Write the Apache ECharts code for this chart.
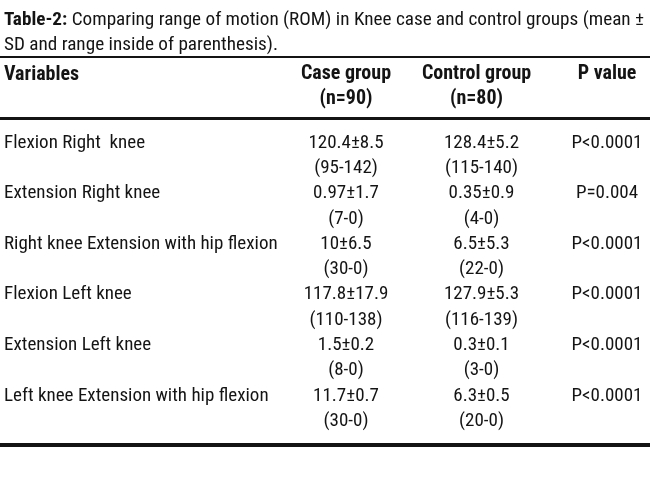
<!DOCTYPE html>
<html>
<head>
<meta charset="utf-8">
<script src="https://cdn.jsdelivr.net/npm/echarts@6/dist/echarts.min.js"></script>
<style>html,body{margin:0;padding:0;background:#fff;}#chart{width:650px;height:485px;}</style>
</head>
<body>
<div id="chart"></div>
<script>
// ---- data ----
const titleBold = 'Table-2:';
const titleLine1 = ' Comparing range of motion (ROM) in Knee case and control groups (mean \u00b1';
const titleLine2 = 'SD and range inside of parenthesis).';
const variablesHeader = 'Variables';
const columnHeaders = ['Case group', 'Control group', 'P value'];
const columnSubHeaders = ['(n=90)', '(n=80)', ''];
const variables = [
  'Flexion Right  knee',
  'Extension Right knee',
  'Right knee Extension with hip flexion',
  'Flexion Left knee',
  'Extension Left knee',
  'Left knee Extension with hip flexion'
];
const caseMean = [120.4, 0.97, 10, 117.8, 1.5, 11.7];
const caseSD = [8.5, 1.7, 6.5, 17.9, 0.2, 0.7];
const caseRange = [[95, 142], [7, 0], [30, 0], [110, 138], [8, 0], [30, 0]];
const controlMean = [128.4, 0.35, 6.5, 127.9, 0.3, 6.3];
const controlSD = [5.2, 0.9, 5.3, 5.3, 0.1, 0.5];
const controlRange = [[115, 140], [4, 0], [22, 0], [116, 139], [3, 0], [20, 0]];
const pValues = ['P<0.0001', 'P=0.004', 'P<0.0001', 'P<0.0001', 'P<0.0001', 'P<0.0001'];

// ---- build ----
const FONT = '"Roboto Condensed", "Liberation Sans Narrow", sans-serif';
const INK = '#141414';
const FS = 19;
const FS_TITLE = 19.2;
const FS_HEAD = 20;
const LH = 25.3;

function cell(mean, sd, range) {
  return mean + '\u00b1' + sd + '\n(' + range[0] + '-' + range[1] + ')';
}
const caseCells = variables.map((v, i) => [0, i, cell(caseMean[i], caseSD[i], caseRange[i])]);
const controlCells = variables.map((v, i) => [1, i, cell(controlMean[i], controlSD[i], controlRange[i])]);
const pCells = variables.map((v, i) => [2, i, pValues[i] + '\n ']);

function cellSeries(data, dx) {
  return {
    type: 'scatter',
    data: data,
    symbolSize: 0,
    silent: true,
    itemStyle: { opacity: 1 },
    label: {
      show: true,
      position: 'inside',
      offset: [dx, 0],
      formatter: p => p.data[2],
      fontFamily: FONT,
      fontSize: FS,
      lineHeight: LH,
      color: INK,
      opacity: 1,
      align: 'center',
      verticalAlign: 'middle'
    }
  };
}

const headerLabels = columnHeaders.map((h, i) => h + '\n' + (columnSubHeaders[i] || ' '));

const option = {
  backgroundColor: '#ffffff',
  animation: false,
  title: [{
    text: '{b|' + titleBold + '}' + titleLine1 + '\n' + titleLine2,
    left: 4,
    top: 8,
    padding: 0,
    textStyle: {
      fontFamily: FONT, fontSize: FS_TITLE, fontWeight: 'normal', color: INK, lineHeight: 25,
      rich: { b: { fontFamily: FONT, fontSize: FS_TITLE, fontWeight: 'bold', color: INK, lineHeight: 25 } }
    }
  }, {
    text: variablesHeader,
    left: 4,
    top: 62,
    padding: 0,
    textStyle: { fontFamily: FONT, fontSize: FS_HEAD, fontWeight: 'bold', color: INK, lineHeight: 25 }
  }],
  grid: { left: 346, right: 43, top: 130.3, bottom: 51.3 },
  xAxis: {
    type: 'value',
    position: 'top',
    min: 0, max: 2, interval: 1,
    axisLine: { show: false }, axisTick: { show: false }, splitLine: { show: false },
    axisLabel: {
      show: true,
      margin: 19,
      formatter: (v) => headerLabels[v] || '',
      fontFamily: FONT, fontSize: FS_HEAD, fontWeight: 'bold', color: INK, lineHeight: 25
    }
  },
  yAxis: {
    type: 'category',
    inverse: true,
    data: variables,
    axisLine: { show: false }, axisTick: { show: false }, splitLine: { show: false },
    axisLabel: {
      show: true,
      margin: 342,
      align: 'left',
      formatter: (v) => v + '\n ',
      fontFamily: FONT, fontSize: FS, color: INK, lineHeight: LH
    }
  },
  series: [cellSeries(caseCells, 0), cellSeries(controlCells, 5), cellSeries(pCells, 0)],
  graphic: [
    { type: 'rect', shape: { x: 0, y: 56, width: 650, height: 2 }, style: { fill: INK }, silent: true },
    { type: 'rect', shape: { x: 0, y: 117, width: 650, height: 3 }, style: { fill: INK }, silent: true },
    { type: 'rect', shape: { x: 0, y: 443, width: 650, height: 4 }, style: { fill: INK }, silent: true }
  ]
};

const chart = echarts.init(document.getElementById('chart'), null, { renderer: 'canvas' });
chart.setOption(option);
</script>
</body>
</html>
